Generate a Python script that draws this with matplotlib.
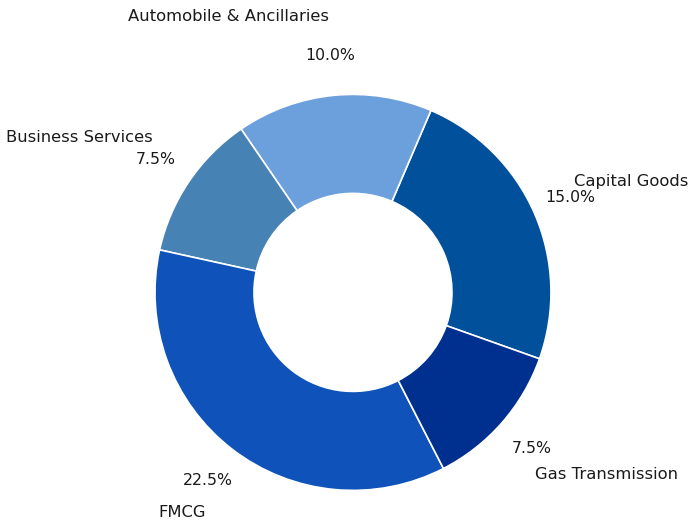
import matplotlib
matplotlib.use("Agg")
import matplotlib.pyplot as plt
import numpy as np

#%% Sector weights (values shown as %)
sectors = ["Capital Goods", "Automobile & Ancillaries", "Business Services",
           "FMCG", "Gas Transmission"]
weights = [15.0, 10.0, 7.5, 22.5, 7.5]
colors = ["#00509B", "#6CA0DC", "#4682B4", "#0F52BA", "#00308F"]

total = sum(weights)

#%% Donut chart
fig = plt.figure(figsize=(6.89, 5.22), dpi=100)
ax = fig.add_axes([0.1531, -0.0343, 0.7184, 0.9483])

wedges, texts, autotexts = ax.pie(
    weights, colors=colors, startangle=-19.6,
    autopct=lambda p: f"{p * total / 100:.1f}%",
    pctdistance=1.2, labels=sectors, labeldistance=1.22,
    wedgeprops=dict(width=0.5, edgecolor="white", linewidth=1.2),
    textprops=dict(fontsize=11.8, color="#1a1a1a"))

# push the sector names further out vertically
for w, t in zip(wedges, texts):
    ang = np.deg2rad((w.theta1 + w.theta2) / 2)
    t.set_position((1.22 * np.cos(ang), 1.4 * np.sin(ang)))

for t in autotexts:
    t.set_fontsize(11.3)

ax.set_xlim(-1.25, 1.25)
ax.set_ylim(-1.25, 1.25)
ax.set_aspect("equal")

fig.savefig("out.png", dpi=100)
